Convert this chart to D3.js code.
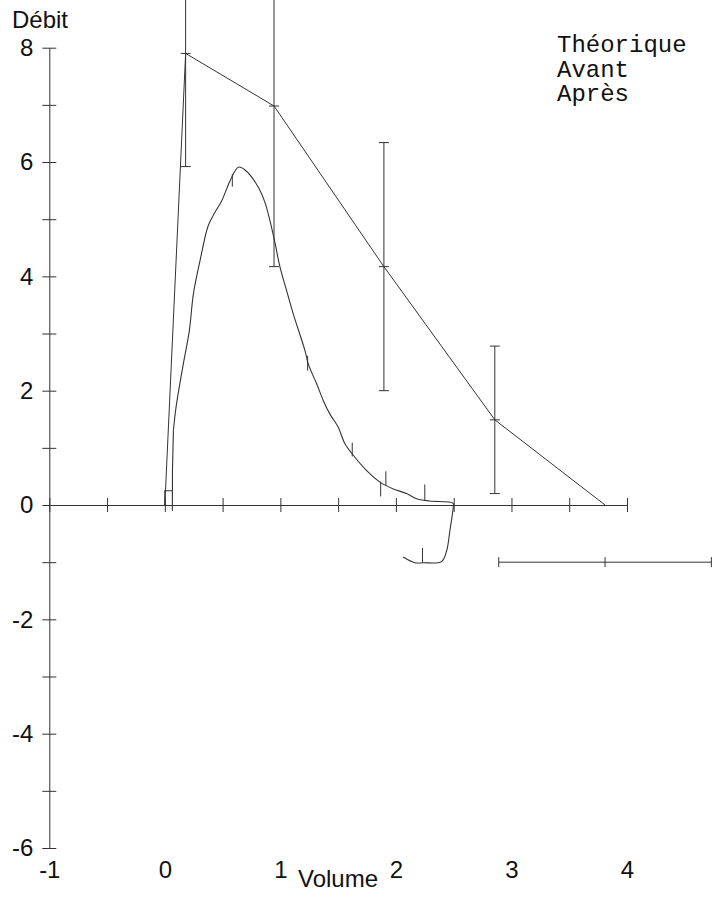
<!DOCTYPE html>
<html>
<head>
<meta charset="utf-8">
<script src="https://cdn.jsdelivr.net/npm/d3@7"></script>
<style>
  body { margin: 0; background: #fff; }
  svg { display: block; }
  .axis text { font-family: "Liberation Sans", Arial, sans-serif; font-size: 24px; fill: #111; }
  .legend text { font-family: "Courier New", "Liberation Mono", monospace; font-size: 24px; fill: #111; }
</style>
</head>
<body>
<div id="chart"></div>
<script>
// Spirometry flow-volume chart (Débit / Volume)

// Theoretical (predicted) curve
const theoVolume = [0, 0.18, 0.945, 1.896, 2.856, 3.81];
const theoFlow   = [0, 7.9, 6.98, 4.17, 1.49, 0];

// Error bars on the predicted points: [volume, flow, half range]
const theoErrors = [
  [0.18, 7.9, 1.98],
  [0.945, 6.98, 2.81],
  [1.896, 4.17, 2.17],
  [2.856, 1.49, 1.29]
];

// Horizontal bar (predicted volume range): centre, half range, flow level
const volBar = { center: 3.81, half: 0.92, flow: -1.0 };

// Start of the measured trace (small step at the origin)
const measuredStart = [
  [0.0, 0.0], [0.0, 0.25], [0.065, 0.25], [0.065, -0.1], [0.066, 0.6], [0.074, 1.30]
];

// Measured curve points [volume, flow]
const measured = [
  [0.074, 1.30], [0.097, 1.71], [0.160, 2.47], [0.212, 3.05], [0.247, 3.69],
  [0.304, 4.27], [0.376, 4.89], [0.434, 5.12], [0.492, 5.32], [0.564, 5.67],
  [0.636, 5.91], [0.694, 5.86], [0.809, 5.56], [0.867, 5.29], [0.910, 4.97],
  [0.953, 4.59], [0.997, 4.16], [1.054, 3.75], [1.112, 3.34], [1.213, 2.70],
  [1.241, 2.47], [1.314, 2.12], [1.371, 1.83], [1.429, 1.59], [1.501, 1.36],
  [1.559, 1.07], [1.631, 0.87], [1.747, 0.60], [1.862, 0.40], [1.977, 0.28],
  [2.093, 0.20], [2.179, 0.11], [2.294, 0.07], [2.496, 0.03], [2.496, -0.04],
  [2.467, -0.45], [2.439, -0.80], [2.395, -0.99], [2.236, -1.01], [2.164, -1.01],
  [2.063, -0.91]
];

// Small vertical markers along the measured curve: [volume, flowLow, flowHigh]
const markers = [
  [0.584, 5.57, 5.79],
  [1.236, 2.35, 2.61],
  [1.622, 0.85, 1.09],
  [1.868, 0.15, 0.41],
  [1.913, 0.34, 0.59],
  [2.25, 0.08, 0.36],
  [2.23, -1.01, -0.75]
];

const yTicks = d3.range(-6, 9, 1);
const xTicks = d3.range(-1, 4.01, 0.5);
const xLabels = [-1, 0, 1, 2, 3, 4];
const legendItems = ["Théorique", "Avant", "Après"];

const width = 713, height = 900;
const stroke = "#333";

const x = d3.scaleLinear().domain([-1, 4]).range([49.3, 627]);
const y = d3.scaleLinear().domain([-6, 8]).range([848, 47.7]);

const svg = d3.select("#chart").append("svg")
  .attr("width", width)
  .attr("height", height);

// Y axis (ticks crossing the line)
const yAxis = svg.append("g")
  .attr("class", "axis")
  .attr("transform", `translate(${x(-1)},0)`)
  .call(d3.axisLeft(y).tickValues(yTicks).tickSize(7).tickSizeOuter(0).tickPadding(9)
    .tickFormat(d => d % 2 === 0 ? String(d) : ""));
yAxis.selectAll(".tick line").attr("x1", 7);
yAxis.selectAll("path, line").attr("stroke", stroke);

// X axis at flow = 0, no labels
const xAxis = svg.append("g")
  .attr("class", "axis")
  .attr("transform", `translate(0,${y(0)})`)
  .call(d3.axisBottom(x).tickValues(xTicks).tickSize(7).tickSizeOuter(0).tickFormat(""));
xAxis.selectAll(".tick line").attr("y1", -7);
xAxis.selectAll("path, line").attr("stroke", stroke);

// X labels along the bottom
const xLab = svg.append("g")
  .attr("class", "axis")
  .attr("transform", `translate(0,${y(-6)})`)
  .call(d3.axisBottom(x).tickValues(xLabels).tickSize(0).tickPadding(13)
    .tickFormat(d => String(d)));
xLab.select(".domain").remove();

// Axis titles
svg.append("text")
  .attr("x", 12).attr("y", 28)
  .style("font-family", "'Liberation Sans', Arial, sans-serif")
  .style("font-size", "24px").attr("fill", "#111")
  .text("Débit");

svg.append("text")
  .attr("x", 338).attr("y", 887)
  .attr("text-anchor", "middle")
  .style("font-family", "'Liberation Sans', Arial, sans-serif")
  .style("font-size", "24px").attr("fill", "#111")
  .text("Volume");

// Theoretical line
const line = d3.line().x(d => x(d[0])).y(d => y(d[1]));
svg.append("path")
  .datum(theoVolume.map((v, i) => [v, theoFlow[i]]))
  .attr("d", line)
  .attr("fill", "none")
  .attr("stroke", stroke)
  .attr("stroke-width", 1);

// Error bars
const cap = 5;
const eb = svg.append("g").attr("stroke", stroke).attr("stroke-width", 1);
theoErrors.forEach(([v, f, e]) => {
  eb.append("line").attr("x1", x(v)).attr("x2", x(v)).attr("y1", y(f - e)).attr("y2", y(f + e));
  [f - e, f, f + e].forEach(yy => {
    eb.append("line").attr("x1", x(v) - cap).attr("x2", x(v) + cap).attr("y1", y(yy)).attr("y2", y(yy));
  });
});

// Horizontal volume bar
eb.append("line")
  .attr("x1", x(volBar.center - volBar.half)).attr("x2", x(volBar.center + volBar.half))
  .attr("y1", y(volBar.flow)).attr("y2", y(volBar.flow));
[volBar.center - volBar.half, volBar.center, volBar.center + volBar.half].forEach(v => {
  eb.append("line").attr("x1", x(v)).attr("x2", x(v))
    .attr("y1", y(volBar.flow) - cap).attr("y2", y(volBar.flow) + cap);
});

// Measured curve
svg.append("path")
  .datum(measuredStart)
  .attr("d", line)
  .attr("fill", "none")
  .attr("stroke", stroke)
  .attr("stroke-width", 1.1);

svg.append("path")
  .datum(measured)
  .attr("d", d3.line().x(d => x(d[0])).y(d => y(d[1])).curve(d3.curveCatmullRom.alpha(0.5)))
  .attr("fill", "none")
  .attr("stroke", stroke)
  .attr("stroke-width", 1.1);

// Markers on the curve
svg.append("g").attr("stroke", stroke).attr("stroke-width", 1)
  .selectAll("line")
  .data(markers)
  .enter().append("line")
  .attr("x1", d => x(d[0])).attr("x2", d => x(d[0]))
  .attr("y1", d => y(d[1])).attr("y2", d => y(d[2]));

// Legend
svg.append("g").attr("class", "legend")
  .selectAll("text")
  .data(legendItems)
  .enter().append("text")
  .attr("x", 557)
  .attr("y", (d, i) => 52 + i * 24.5)
  .text(d => d);
</script>
</body>
</html>
